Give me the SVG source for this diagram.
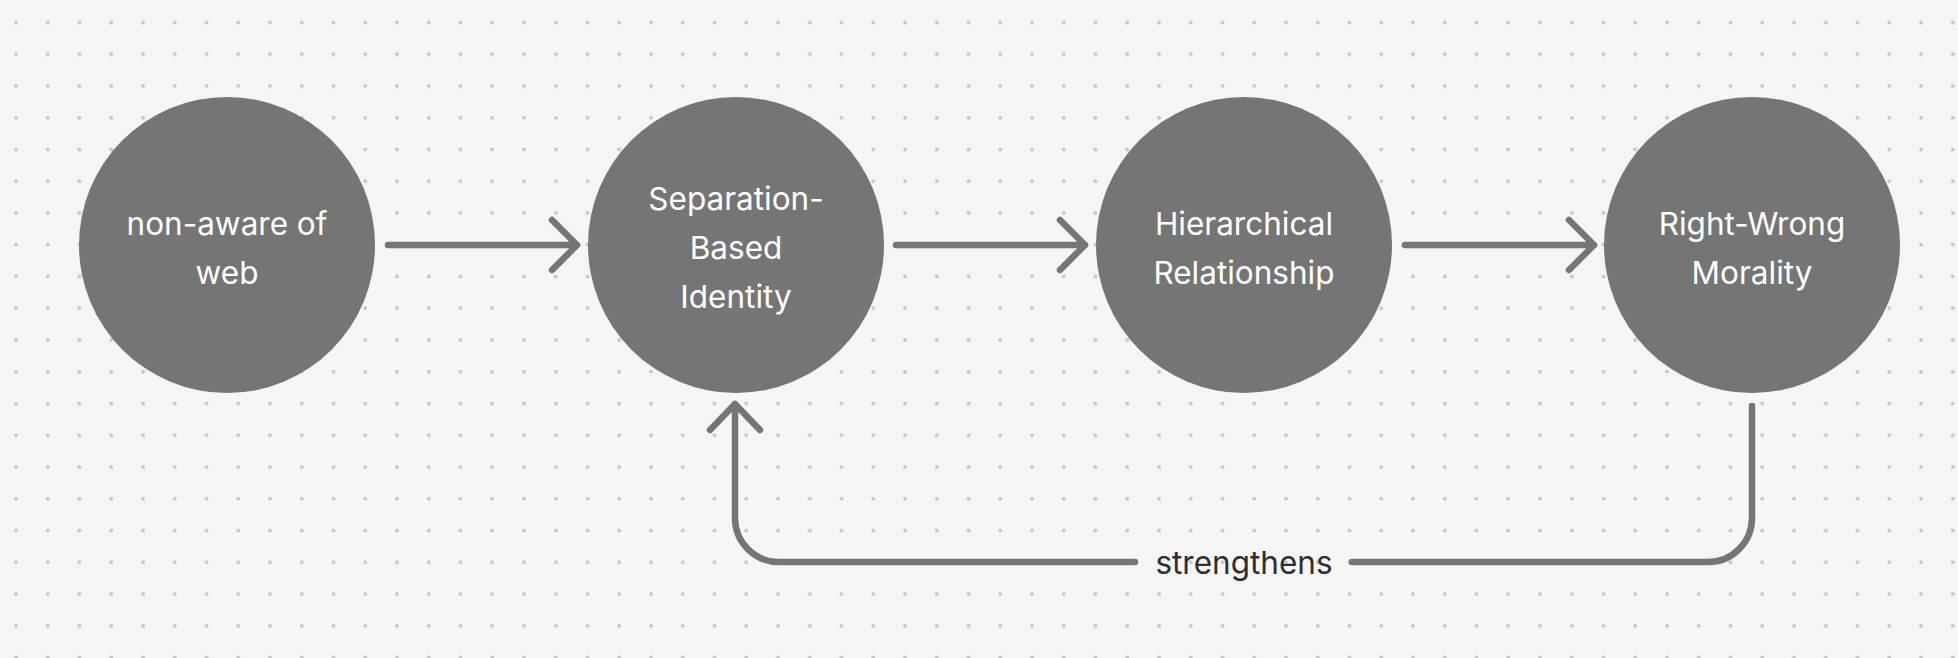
<svg xmlns="http://www.w3.org/2000/svg" width="1958" height="658" viewBox="0 0 1958 658">
  <defs>
    <pattern id="dots" patternUnits="userSpaceOnUse" x="0" y="0" width="31.75" height="31.75">
      <circle cx="16" cy="22.5" r="1.9" fill="#c4c4c4"/>
    </pattern>
    <style>
      .node circle { fill: #757575; }
      .node text { fill: #ffffff; font-family: Inter, "Liberation Sans", sans-serif; font-size: 31.5px; text-anchor: middle; }
      .edge { fill: none; stroke: #757575; stroke-width: 6.5; stroke-linecap: round; stroke-linejoin: round; }
      .label { fill: #2e2e2e; font-family: Inter, "Liberation Sans", sans-serif; font-size: 31.5px; text-anchor: middle; }
    </style>
  </defs>
  <rect width="1958" height="658" fill="#f5f5f5"/>
  <rect width="1958" height="658" fill="url(#dots)"/>

  <g id="connectors">
    <path class="edge" d="M388 245 H577 M552 220 L577 245 L552 270"/>
    <path class="edge" d="M896 245 H1085 M1060 220 L1085 245 L1060 270"/>
    <path class="edge" d="M1405 245 H1594 M1569 220 L1594 245 L1569 270"/>
    <path class="edge" d="M1752 406 V518 A44 44 0 0 1 1708 562 H1352"/>
    <path class="edge" d="M1135 562 H779 A44 44 0 0 1 735 518 V404 M710 430 L735 404 L760 430"/>
    <text class="label" x="1244" y="573.5">strengthens</text>
  </g>

  <g id="node-non-aware" class="node">
    <circle cx="227" cy="245" r="148"/>
    <text x="227" y="235">non-aware of</text>
    <text x="227" y="284">web</text>
  </g>
  <g id="node-separation" class="node">
    <circle cx="736" cy="245" r="148"/>
    <text x="736" y="209.5">Separation-</text>
    <text x="736" y="258.5">Based</text>
    <text x="736" y="307.5">Identity</text>
  </g>
  <g id="node-hierarchical" class="node">
    <circle cx="1244" cy="245" r="148"/>
    <text x="1244" y="234.5">Hierarchical</text>
    <text x="1244" y="283.5">Relationship</text>
  </g>
  <g id="node-right-wrong" class="node">
    <circle cx="1752" cy="245" r="148"/>
    <text x="1752" y="234.5">Right-Wrong</text>
    <text x="1752" y="283.5">Morality</text>
  </g>
</svg>
